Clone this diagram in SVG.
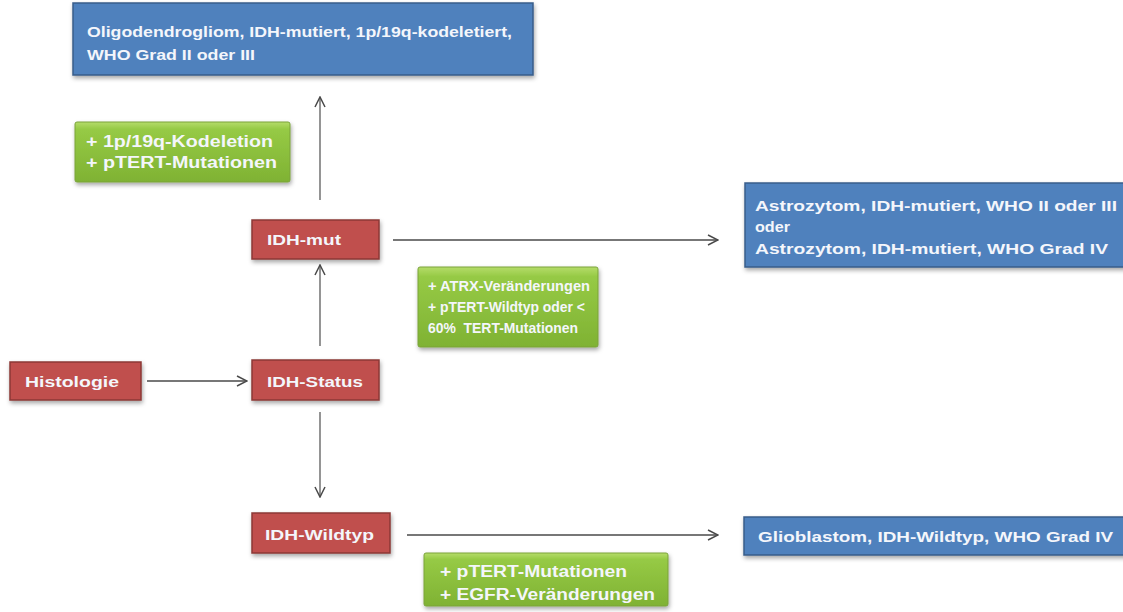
<svg xmlns="http://www.w3.org/2000/svg" width="1123" height="612" viewBox="0 0 1123 612">
<defs>
<style>
.t{font-family:"Liberation Sans",Arial,sans-serif;font-weight:bold;font-size:15px;fill:#f4f6fb}
.g{font-size:16px}
.blue{fill:#4f81bd;stroke:#385d8a;stroke-width:1.5}
.red{fill:#c0504d;stroke:#8c3836;stroke-width:1.5}
.green{fill:url(#gg);stroke:#7aa33a;stroke-width:1}
.c{fill:none;stroke:#4a4a4a;stroke-width:1.3}
.cv{fill:none;stroke:#7a7a7a;stroke-width:1.6}
</style>
<linearGradient id="gg" x1="0" y1="0" x2="0" y2="1">
<stop offset="0" stop-color="#b5dc6a"/>
<stop offset="0.12" stop-color="#96ca45"/>
<stop offset="1" stop-color="#7fb233"/>
</linearGradient>
<filter id="sh" x="-10%" y="-20%" width="120%" height="150%">
<feDropShadow dx="1" dy="2.5" stdDeviation="2" flood-color="#000" flood-opacity="0.35"/>
</filter>
<marker id="ah" viewBox="0 0 12 12" refX="11" refY="6" markerWidth="12" markerHeight="12" markerUnits="userSpaceOnUse" orient="auto">
<path d="M1,1 L11,6 L1,11" fill="none" stroke="#4a4a4a" stroke-width="1.5"/>
</marker>
</defs>
<rect width="1123" height="612" fill="#ffffff"/>
<g id="connectors">
<line class="cv" x1="320" y1="200" x2="320" y2="97" marker-end="url(#ah)"/>
<line class="cv" x1="320" y1="346" x2="320" y2="265" marker-end="url(#ah)"/>
<line class="cv" x1="320" y1="412" x2="320" y2="497" marker-end="url(#ah)"/>
<line class="c" x1="147" y1="381" x2="247" y2="381" marker-end="url(#ah)"/>
<line class="c" x1="393" y1="240" x2="718" y2="240" marker-end="url(#ah)"/>
<line class="c" x1="407" y1="535" x2="718" y2="535" marker-end="url(#ah)"/>
</g>
<g id="oligo">
<rect class="blue" x="73" y="3" width="460" height="72" filter="url(#sh)"/>
<text class="t" x="87" y="37" textLength="425" lengthAdjust="spacingAndGlyphs">Oligodendrogliom, IDH-mutiert, 1p/19q-kodeletiert,</text>
<text class="t" x="87" y="60" textLength="168" lengthAdjust="spacingAndGlyphs">WHO Grad II oder III</text>
</g>
<g id="green-codel">
<rect class="green" x="75" y="122" width="215" height="60" rx="2" filter="url(#sh)"/>
<text class="t g" x="86" y="147" textLength="187" lengthAdjust="spacingAndGlyphs">+ 1p/19q-Kodeletion</text>
<text class="t g" x="86" y="168" textLength="191" lengthAdjust="spacingAndGlyphs">+ pTERT-Mutationen</text>
</g>
<g id="idh-mut">
<rect class="red" x="252" y="220" width="127" height="39" filter="url(#sh)"/>
<text class="t" x="267" y="245" textLength="74" lengthAdjust="spacingAndGlyphs">IDH-mut</text>
</g>
<g id="astro">
<rect class="blue" x="745" y="183" width="385" height="84" filter="url(#sh)"/>
<text class="t" x="755" y="211" textLength="362" lengthAdjust="spacingAndGlyphs">Astrozytom, IDH-mutiert, WHO II oder III</text>
<text class="t" x="755" y="232" textLength="35" lengthAdjust="spacingAndGlyphs">oder</text>
<text class="t" x="755" y="254" textLength="353" lengthAdjust="spacingAndGlyphs">Astrozytom, IDH-mutiert, WHO Grad IV</text>
</g>
<g id="green-atrx">
<rect class="green" x="418" y="267" width="180" height="80" rx="2" filter="url(#sh)"/>
<text class="t" x="428" y="291" textLength="162" lengthAdjust="spacingAndGlyphs">+ ATRX-Veränderungen</text>
<text class="t" x="428" y="312" textLength="157" lengthAdjust="spacingAndGlyphs">+ pTERT-Wildtyp oder &lt;</text>
<text class="t" x="428" y="333" textLength="150" lengthAdjust="spacingAndGlyphs">60%&#160; TERT-Mutationen</text>
</g>
<g id="histologie">
<rect class="red" x="10" y="362" width="131" height="38" filter="url(#sh)"/>
<text class="t" x="25" y="387" textLength="94" lengthAdjust="spacingAndGlyphs">Histologie</text>
</g>
<g id="idh-status">
<rect class="red" x="252" y="360" width="127" height="40" filter="url(#sh)"/>
<text class="t" x="267" y="387" textLength="96" lengthAdjust="spacingAndGlyphs">IDH-Status</text>
</g>
<g id="idh-wildtyp">
<rect class="red" x="252" y="513" width="138" height="40" filter="url(#sh)"/>
<text class="t" x="265" y="540" textLength="109" lengthAdjust="spacingAndGlyphs">IDH-Wildtyp</text>
</g>
<g id="green-egfr">
<rect class="green" x="424" y="553" width="244" height="53" rx="2" filter="url(#sh)"/>
<text class="t g" x="440" y="577" textLength="187" lengthAdjust="spacingAndGlyphs">+ pTERT-Mutationen</text>
<text class="t g" x="440" y="600" textLength="215" lengthAdjust="spacingAndGlyphs">+ EGFR-Veränderungen</text>
</g>
<g id="glioblastom">
<rect class="blue" x="744" y="517" width="385" height="38" filter="url(#sh)"/>
<text class="t" x="758" y="542" textLength="355" lengthAdjust="spacingAndGlyphs">Glioblastom, IDH-Wildtyp, WHO Grad IV</text>
</g>
</svg>
